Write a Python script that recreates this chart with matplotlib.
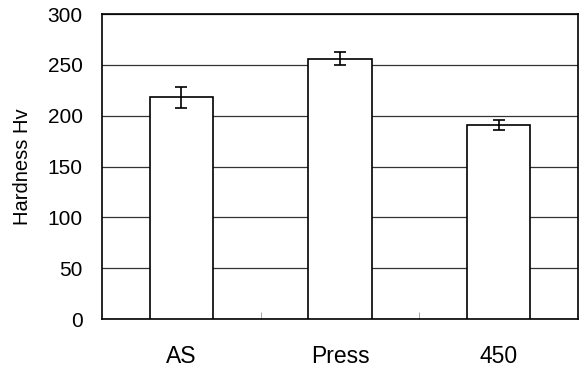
import matplotlib
matplotlib.use("Agg")
import matplotlib.pyplot as plt
import numpy as np

categories = ["AS", "Press", "450"]
hardness = [218, 256, 191]
hardness_err = [10.5, 6.5, 5]
yticks = [0, 50, 100, 150, 200, 250, 300]

plt.rcParams['font.family'] = ['Liberation Sans', 'DejaVu Sans']

fig = plt.figure(figsize=(5.84, 3.69), dpi=100)
ax = fig.add_axes([0.1747, 0.1355, 0.815, 0.8265])

x = np.arange(len(categories))
ax.bar(x, hardness, width=0.40, color="white", edgecolor="black", linewidth=1.2, zorder=3)
ax.errorbar(x, hardness, yerr=hardness_err, fmt="none", ecolor="black",
            elinewidth=1.2, capsize=4.3, capthick=1.2, zorder=4)

ax.set_xlim(-0.5, len(categories) - 0.5)
ax.set_ylim(0, 300)
ax.set_yticks(yticks)
ax.yaxis.grid(True, color="#333333", linewidth=0.9, zorder=0)
ax.set_axisbelow(True)

ax.set_xticks(x)
ax.set_xticklabels(categories, fontsize=16.5)
ax.tick_params(axis="x", length=0, pad=19)
ax.set_xticks(np.arange(0.5, len(categories) - 0.5), minor=True)
ax.tick_params(axis="x", which="minor", direction="in", length=5, color="#999999")
ax.tick_params(axis="y", length=0, pad=14, labelsize=15)

ax.set_ylabel("Hardness Hv", fontsize=14.5, labelpad=11)

for s in ax.spines.values():
    s.set_linewidth(1.2)
    s.set_color("black")

fig.savefig("out.png", dpi=100)
